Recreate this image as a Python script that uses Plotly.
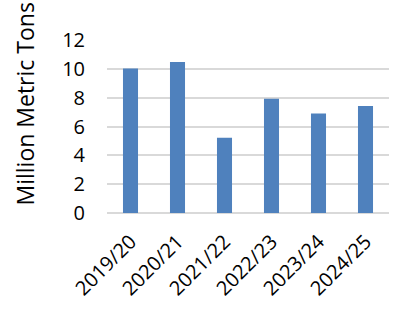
import plotly.graph_objects as go

categories = ["2019/20", "2020/21", "2021/22", "2022/23", "2023/24", "2024/25"]
values = [10.03, 10.48, 5.22, 7.93, 6.9, 7.43]
y_ticks = [0, 2, 4, 6, 8, 10, 12]
y_title = "Million Metric Tons"

fig = go.Figure(go.Bar(x=categories, y=values, marker=dict(color="#4F81BD", line=dict(width=0))))

fig.update_layout(
    width=413, height=321,
    margin=dict(l=107, r=24, t=40, b=108),
    paper_bgcolor="white", plot_bgcolor="white",
    bargap=0.68,
    showlegend=False,
    font=dict(family="Open Sans", size=20, color="black"),
    xaxis=dict(tickangle=-45, showgrid=False, showline=False, ticks="",
               ticklabelstandoff=12, tickfont=dict(size=20)),
    yaxis=dict(range=[0, 12], tickvals=y_ticks, showgrid=True, gridcolor="#D9D9D9",
               gridwidth=1.5, zeroline=True, zerolinecolor="#D9D9D9", zerolinewidth=1.5,
               showline=False, ticks="", ticklabelstandoff=21, tickfont=dict(size=20)),
    annotations=[dict(text=y_title, textangle=-90, xref="paper", yref="paper",
                      x=-0.29, y=0.03, xanchor="center", yanchor="bottom",
                      showarrow=False, font=dict(size=23, color="black"))],
)

fig.write_html("out.html")
